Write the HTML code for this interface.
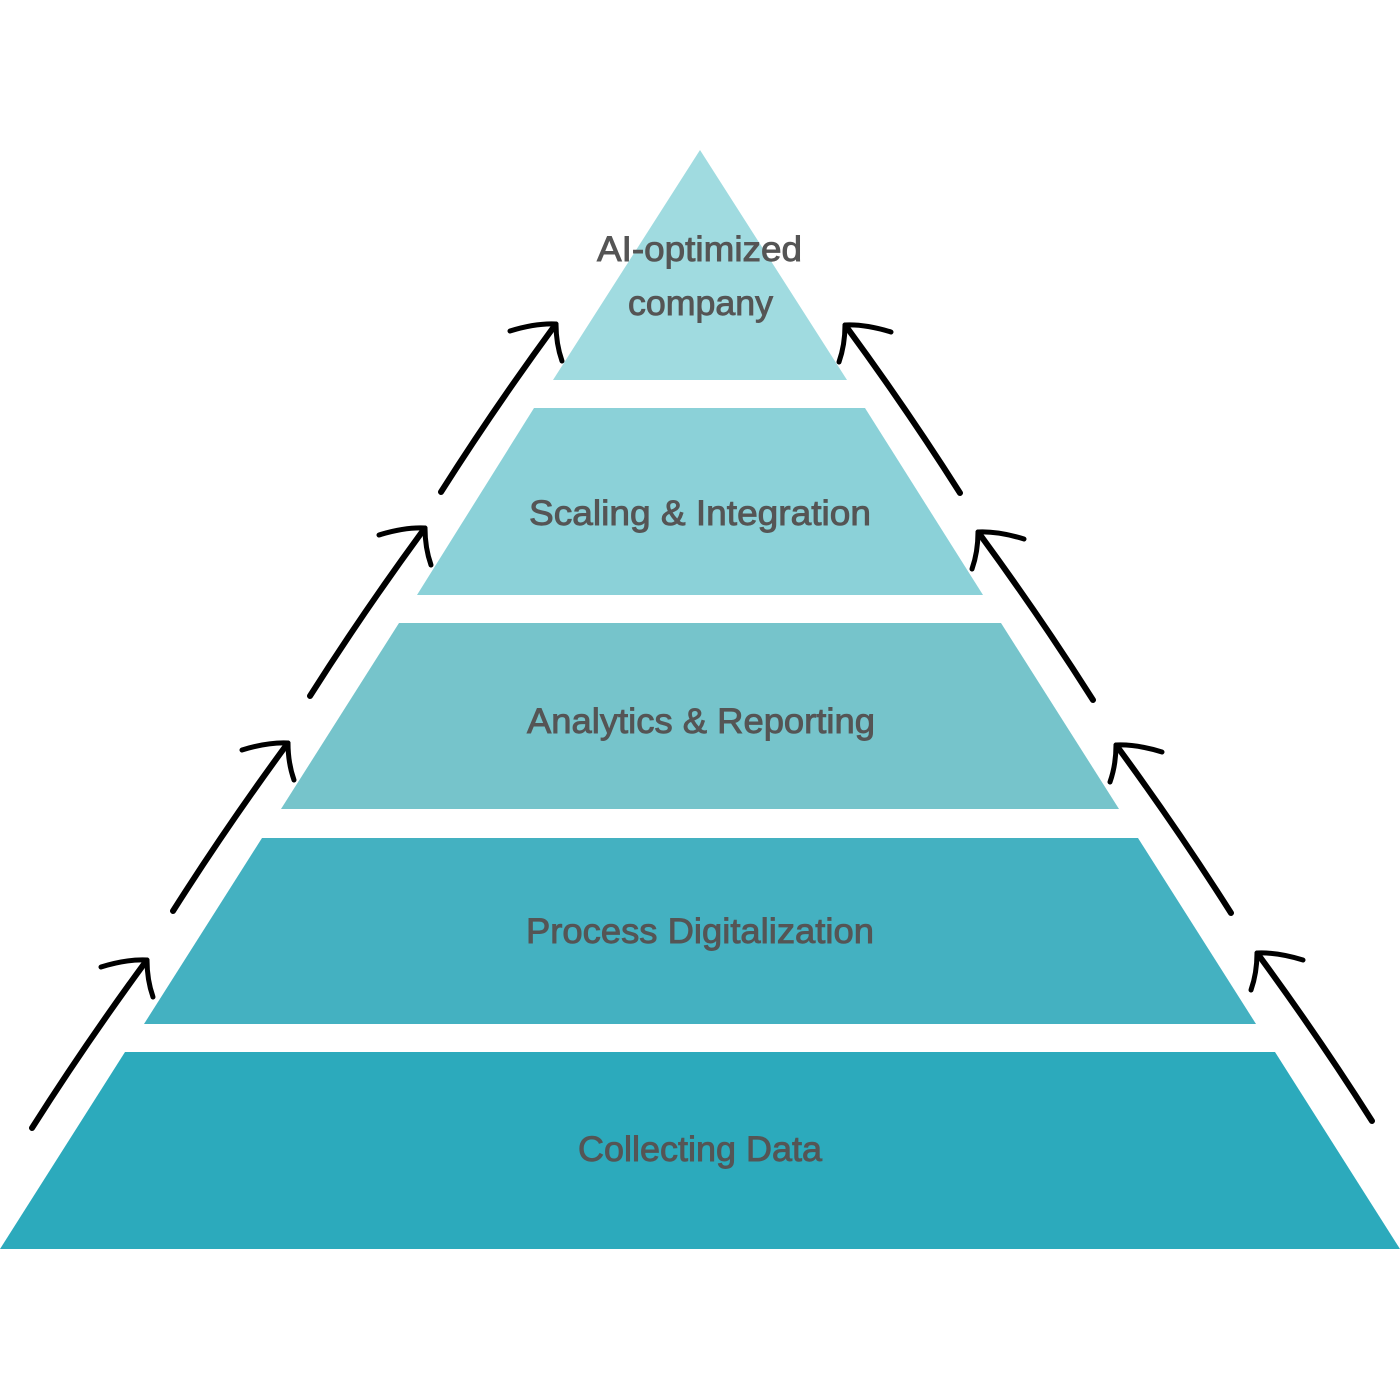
<!DOCTYPE html>
<html>
<head>
<meta charset="utf-8">
<style>
  html, body { margin: 0; padding: 0; background: #ffffff; }
  body { width: 1400px; height: 1400px; overflow: hidden; }
  svg { display: block; }
  .lbl { font-family: "Liberation Sans", "DejaVu Sans", sans-serif; font-size: 35px; fill: #555555; stroke: #555555; stroke-width: 0.9px; }
  .arr { fill: none; stroke: #000000; stroke-width: 6; stroke-linecap: round; stroke-linejoin: round; }
  .barb { fill: none; stroke: #000000; stroke-width: 5; stroke-linecap: round; stroke-linejoin: round; }
</style>
</head>
<body>
<svg width="1400" height="1400" viewBox="0 0 1400 1400" xmlns="http://www.w3.org/2000/svg">
  <rect width="1400" height="1400" fill="#ffffff"/>

  <!-- Pyramid layers -->
  <polygon points="700,150 847,380 553,380" fill="#a0dbe0"/>
  <polygon points="534,408 865,408 983,595 417,595" fill="#8bd1d8"/>
  <polygon points="399,623 1001,623 1119,809 281,809" fill="#76c4cb"/>
  <polygon points="262,838 1138,838 1256,1024 144,1024" fill="#44b1c1"/>
  <polygon points="125,1052 1275,1052 1400,1249 0,1249" fill="#2caabc"/>

  <!-- Labels -->
  <text class="lbl" x="597" y="261" textLength="205" lengthAdjust="spacingAndGlyphs">AI-optimized</text>
  <text class="lbl" x="628" y="315" textLength="145" lengthAdjust="spacingAndGlyphs">company</text>
  <text class="lbl" x="529" y="525" textLength="342" lengthAdjust="spacingAndGlyphs">Scaling &amp; Integration</text>
  <text class="lbl" x="527" y="733" textLength="348" lengthAdjust="spacingAndGlyphs">Analytics &amp; Reporting</text>
  <text class="lbl" x="526" y="943" textLength="348" lengthAdjust="spacingAndGlyphs">Process Digitalization</text>
  <text class="lbl" x="578" y="1161" textLength="244" lengthAdjust="spacingAndGlyphs">Collecting Data</text>

  <!-- Arrow template (tip at origin, pointing up-right) -->
  <defs>
    <g id="arrowL">
      <path class="arr" d="M -115 168 Q -63 86 -3 4"/>
      <path class="barb" d="M -46 7 Q -20 -1 0 0"/>
      <path class="barb" d="M 0 0 Q 0 20 6 37"/>
    </g>
  </defs>

  <!-- Left arrows -->
  <use href="#arrowL" transform="translate(147,960)"/>
  <use href="#arrowL" transform="translate(288,743)"/>
  <use href="#arrowL" transform="translate(425,528)"/>
  <use href="#arrowL" transform="translate(556,324)"/>

  <!-- Right arrows (mirrored) -->
  <use href="#arrowL" transform="translate(1257,953) scale(-1,1)"/>
  <use href="#arrowL" transform="translate(1116,745) scale(-1,1)"/>
  <use href="#arrowL" transform="translate(978,532) scale(-1,1)"/>
  <use href="#arrowL" transform="translate(845,325) scale(-1,1)"/>
</svg>
</body>
</html>
